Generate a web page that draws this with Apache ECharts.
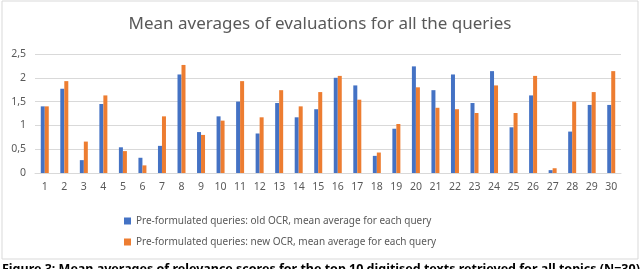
<!DOCTYPE html>
<html>
<head>
<meta charset="utf-8">
<script src="https://cdn.jsdelivr.net/npm/echarts@6/dist/echarts.min.js"></script>
<style>
html,body{margin:0;padding:0;background:#fff;}
#c{width:640px;height:269px;}
</style>
</head>
<body>
<div id="c"></div>
<script>
const categories = ['1','2','3','4','5','6','7','8','9','10','11','12','13','14','15','16','17','18','19','20','21','22','23','24','25','26','27','28','29','30'];
const oldOCR = [1.40,1.77,0.27,1.45,0.54,0.32,0.57,2.07,0.86,1.19,1.50,0.83,1.47,1.17,1.34,2.00,1.84,0.36,0.93,2.24,1.74,2.07,1.47,2.14,0.96,1.63,0.06,0.87,1.43,1.43];
const newOCR = [1.40,1.93,0.66,1.63,0.46,0.16,1.19,2.27,0.80,1.10,1.93,1.17,1.74,1.40,1.70,2.04,1.54,0.43,1.03,1.80,1.37,1.34,1.26,1.84,1.26,2.04,0.10,1.50,1.70,2.14];
const seriesNames = ['Pre-formulated queries: old OCR, mean average for each query','Pre-formulated queries: new OCR, mean average for each query'];
const titleText = 'Mean averages of evaluations for all the queries';
const captionText = 'Figure 3: Mean averages of relevance scores for the top 10 digitised texts retrieved for all topics (N=30)';

const FONT = '"Noto Sans", "Open Sans", sans-serif';
const chart = echarts.init(document.getElementById('c'), null, {renderer:'canvas'});
chart.setOption({
  backgroundColor:'#ffffff',
  animation:false,
  title:{text:titleText,left:'center',top:11,textStyle:{fontFamily:FONT,fontSize:17,fontWeight:'normal',color:'#595959'}},
  legend:{orient:'vertical',left:119,top:211,itemWidth:7,itemHeight:7,itemGap:11,icon:'rect',
    textStyle:{fontFamily:FONT,fontSize:10,color:'#595959'}},
  grid:{left:35,right:19,top:54,bottom:96,containLabel:false},
  xAxis:{type:'category',data:categories,axisTick:{show:false},
    axisLine:{lineStyle:{color:'#d9d9d9'}},
    axisLabel:{fontFamily:FONT,fontSize:10.5,color:'#595959',margin:9,interval:0}},
  yAxis:{type:'value',min:0,max:2.5,interval:0.5,
    axisLabel:{fontFamily:FONT,fontSize:10.5,color:'#595959',margin:9,formatter:v=>String(v).replace('.',',')},
    splitLine:{lineStyle:{color:'#d9d9d9'}}},
  series:[
    {name:seriesNames[0],type:'bar',data:oldOCR,barWidth:4,barGap:'0%',itemStyle:{color:'#4472C4'}},
    {name:seriesNames[1],type:'bar',data:newOCR,barWidth:4,barGap:'0%',itemStyle:{color:'#ED7D31'}}
  ],
  graphic:[
    {type:'rect',shape:{x:2,y:1,width:636,height:258},style:{fill:'none',stroke:'#d9d9d9',lineWidth:1},silent:true},
    {type:'text',left:2,top:263,style:{text:captionText,fontFamily:FONT,fontSize:12.5,fontWeight:'bold',fill:'#000'}}
  ]
});
</script>
</body>
</html>
